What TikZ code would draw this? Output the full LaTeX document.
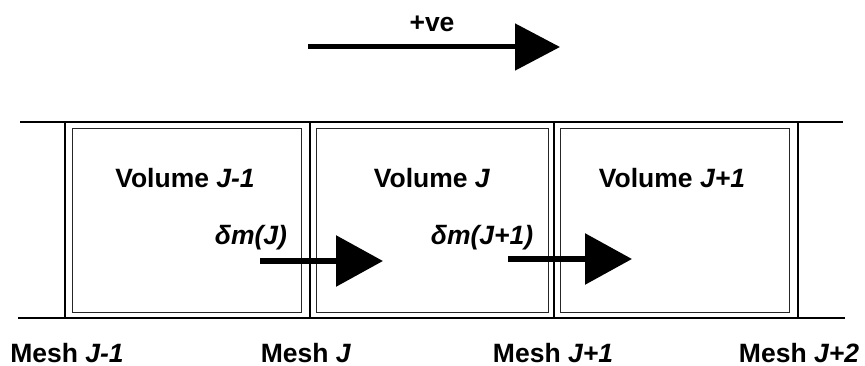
\documentclass[tikz,border=0pt]{standalone}
\usepackage{fontspec}
\setmainfont{Liberation Sans}
\usetikzlibrary{arrows.meta}
\tikzset{
  lbl/.style={font=\bfseries\fontsize{26.5}{30}\selectfont, anchor=base, inner sep=0pt},
  cell/.style={draw, line width=0.8pt, draw=black!85, minimum width=#1, minimum height=184pt, inner sep=0pt},
  wall/.style={line width=2.4pt},
  bigarrow/.style={line width=6pt, -{Triangle[length=47pt,width=50pt]}},
}
\begin{document}
\begin{tikzpicture}[x=1pt,y=-1pt]
\useasboundingbox (0,0) rectangle (865,366);
% walls
\coordinate (tl) at (20,122); \coordinate (tr) at (843,122);
\coordinate (bl) at (18,318); \coordinate (br) at (845,318);
\draw[wall] (tl) -- (tr);
\draw[wall] (bl) -- (br);
\foreach \x/\n in {65/m1,310/m2,554/m3,798/m4}{
  \coordinate (\n t) at (\x,122); \coordinate (\n b) at (\x,318);
  \draw[wall] (\n t) -- (\n b);
}
% cells
\node[cell=229pt] (c1) at (186.5,220) {};
\node[cell=232pt] (c2) at (432,220) {};
\node[cell=229pt] (c3) at (674.5,220) {};
% volume labels
\node[lbl] (v1) at (185,188) {Volume \textit{J-1}};
\node[lbl] (v2) at (432,188) {Volume \textit{J}};
\node[lbl] (v3) at (672,188) {Volume \textit{J+1}};
% delta m labels
\node[lbl] (d1) at (251,245) {\textit{δm(J)}};
\node[lbl] (d2) at (482,245) {\textit{δm(J+1)}};
% flow arrows
\coordinate (a1s) at (260,261); \coordinate (a1e) at (383,261);
\coordinate (a2s) at (508,259); \coordinate (a2e) at (632,259);
\draw[bigarrow] (a1s) -- (a1e);
\draw[bigarrow] (a2s) -- (a2e);
% +ve arrow
\node[lbl] (pv) at (432,32) {+ve};
\coordinate (ps) at (308,47); \coordinate (pe) at (560,47);
\draw[line width=5pt, -{Triangle[length=45pt,width=46pt]}] (ps) -- (pe);
% mesh labels
\node[lbl] (ml1) at (67,362) {Mesh \textit{J-1}};
\node[lbl] (ml2) at (306,362) {Mesh \textit{J}};
\node[lbl] (ml3) at (553,362) {Mesh \textit{J+1}};
\node[lbl] (ml4) at (799,362) {Mesh \textit{J+2}};
\end{tikzpicture}
\end{document}
